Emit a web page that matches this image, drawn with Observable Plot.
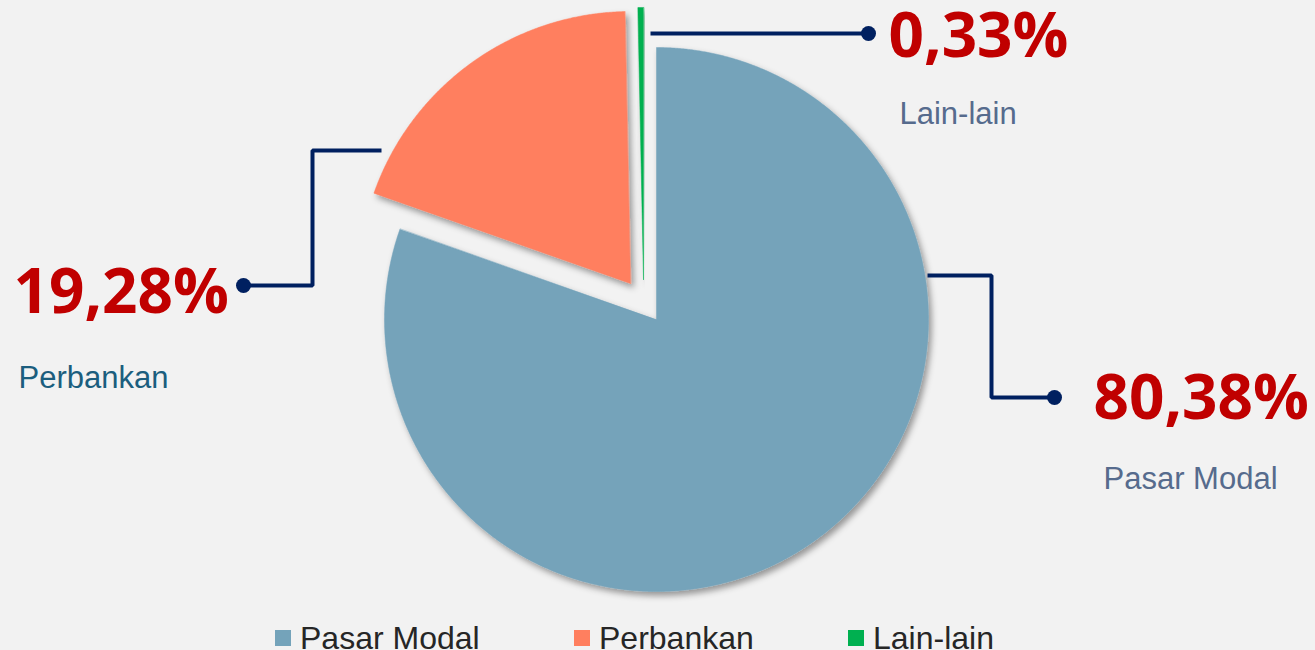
<!DOCTYPE html>
<html>
<head>
<meta charset="utf-8">
<script src="https://cdn.jsdelivr.net/npm/d3@7"></script>
<script src="https://cdn.jsdelivr.net/npm/@observablehq/plot@0.6"></script>
<style>
  html, body { margin: 0; padding: 0; background: #F2F2F2; }
  #wrap { position: relative; width: 1315px; height: 650px; overflow: hidden; background: #F2F2F2; }
  #chart svg { display: block; }
  #legend { position: absolute; left: 0; top: 612px; width: 1315px; height: 38px;
            font-family: "Liberation Sans", Arial, sans-serif; font-size: 32px; color: #262626; }
  .sw { position: absolute; top: 18px; width: 16px; height: 16px; }
  .lt { position: absolute; top: 10px; line-height: 32px; white-space: nowrap; }
</style>
</head>
<body>
<div id="wrap">
  <div id="chart"></div>
  <div id="legend"></div>
</div>
<script>
// ---------- data ----------
const categories = ["Pasar Modal", "Perbankan", "Lain-lain"];
const shares = [80.38, 19.28, 0.33];
const valueLabels = ["80,38%", "19,28%", "0,33%"];

// ---------- styles / layout ----------
const colors = ["#74A3BA", "#FF7F5F", "#00B050"];
const W = 1315, H = 612;
const pie = { cx: 656, cy: 319, r: 272 };
const explode = [[0, 0], [-26, -36], [-13, -40]];          // per-slice pixel offset
const valuePos = [[1093, 418], [13, 312], [888, 56]];       // baseline-left of % labels
const namePos = [[1103, 488], [18, 387], [899, 123]];       // baseline-left of name labels
const nameColors = ["#566B8D", "#1B5E7E", "#566B8D"];
const leaderPaths = [
  [[927, 275], [991, 275], [991, 397], [1054, 397]],
  [[381, 150], [312, 150], [312, 285], [243, 285]],
  [[650, 33], [868, 33]]
];
const leaderColor = "#002060";
const legendSwatchX = [275, 574, 848];

// ---------- slice geometry from the data ----------
const arcs = d3.pie().sort(null).value(d => d)(shares);
const slices = arcs.map((a, i) => {
  const [dx, dy] = explode[i];
  const cx = pie.cx + dx, cy = pie.cy + dy;
  const pts = [{x: cx, y: cy}];
  const n = Math.max(4, Math.ceil((a.endAngle - a.startAngle) / (Math.PI / 720)));
  for (let k = 0; k <= n; k++) {
    const t = a.startAngle + (a.endAngle - a.startAngle) * k / n;
    pts.push({x: cx + pie.r * Math.sin(t), y: cy - pie.r * Math.cos(t)});
  }
  return pts;
});

const leaders = leaderPaths.flatMap((p, i) => p.map(([x, y]) => ({x, y, cat: categories[i]})));
const leaderEnds = leaderPaths.map((p, i) => ({x: p[p.length - 1][0], y: p[p.length - 1][1], cat: categories[i]}));
const valueText = valueLabels.map((t, i) => ({x: valuePos[i][0], y: valuePos[i][1], t}));
const nameText = categories.map((t, i) => ({x: namePos[i][0], y: namePos[i][1], t, c: nameColors[i]}));

const marks = [];
slices.forEach((pts, i) => {
  marks.push(Plot.line(pts, {x: "x", y: "y", fill: colors[i], stroke: colors[i], strokeWidth: 0.5,
    curve: "linear-closed"}));
});
marks.push(
  Plot.line(leaders, {x: "x", y: "y", z: "cat", stroke: leaderColor, strokeWidth: 4,
    strokeLinejoin: "miter", strokeLinecap: "butt"}),
  Plot.dot(leaderEnds, {x: "x", y: "y", r: 7.5, fill: leaderColor, stroke: "none"}),
  Plot.text(valueText, {x: "x", y: "y", text: "t", textAnchor: "start", lineAnchor: "bottom",
    fill: "#C00000", fontSize: 62, fontWeight: "bold", fontFamily: "'Open Sans', sans-serif"}),
  Plot.text(nameText, {x: "x", y: "y", text: "t", textAnchor: "start", lineAnchor: "bottom",
    fill: d => d.c, fontSize: 31, fontFamily: "'Liberation Sans', Arial, sans-serif"})
);

const chart = Plot.plot({
  width: W, height: H, margin: 0,
  x: {domain: [0, W], range: [0, W], axis: null},
  y: {domain: [0, H], range: [0, H], axis: null},
  style: {background: "transparent", overflow: "visible"},
  marks
});

// soft drop shadow for slices
const svg = d3.select(chart);
const defs = svg.insert("defs", ":first-child");
const f = defs.append("filter").attr("id", "sliceShadow")
  .attr("x", "-10%").attr("y", "-10%").attr("width", "130%").attr("height", "130%");
f.append("feDropShadow").attr("dx", 3).attr("dy", 4).attr("stdDeviation", 3)
  .attr("flood-color", "#000").attr("flood-opacity", 0.38);
svg.selectAll("g").filter(function () {
  return colors.includes(this.getAttribute("fill"));
}).attr("filter", "url(#sliceShadow)");

document.getElementById("chart").appendChild(chart);

// legend (HTML, below the SVG)
const legend = document.getElementById("legend");
categories.forEach((c, i) => {
  const sw = document.createElement("div");
  sw.className = "sw";
  sw.style.left = legendSwatchX[i] + "px";
  sw.style.background = colors[i];
  legend.appendChild(sw);
  const t = document.createElement("div");
  t.className = "lt";
  t.style.left = (legendSwatchX[i] + 25) + "px";
  t.textContent = c;
  legend.appendChild(t);
});
</script>
</body>
</html>
